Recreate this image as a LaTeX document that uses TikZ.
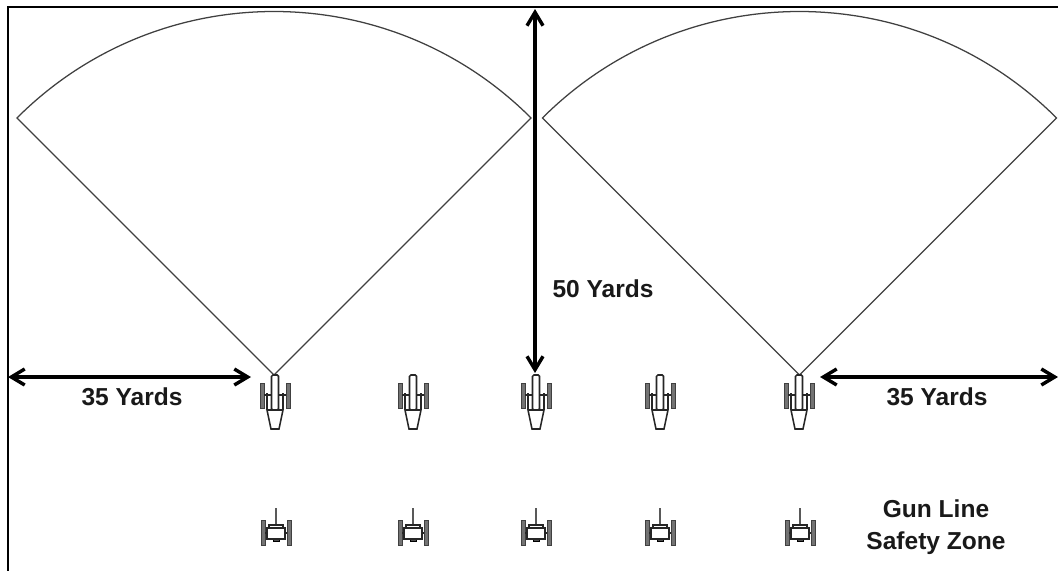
\documentclass[tikz,border=0pt]{standalone}
\usepackage{fontspec}
\setmainfont{Liberation Sans}
\usetikzlibrary{arrows.meta}

\tikzset{
  sector/.style={draw=black!75, line width=0.95pt, line join=miter},
  frameline/.style={draw=black, line width=1.3pt},
  span/.style={{Straight Barb[length=10pt,width=12pt,line width=2.6pt]}-{Straight Barb[length=10pt,width=12pt,line width=2.6pt]}, black, line width=2.8pt},
  label/.style={font=\bfseries\fontsize{18.4}{23.6}\selectfont, text=black!90, inner sep=0pt, align=center},
  part/.style={draw=black!85, line width=1.15pt, fill=white},
  wheel/.style={draw=black!75, line width=0.7pt, fill=black!55},
  pics/gun/.style={code={
    \draw[wheel] (-15,8) rectangle (-11,33);
    \draw[wheel] (11,8) rectangle (15,33);
    \draw[part] (-8,18) -- (-8,35) -- (-4,54) -- (4,54) -- (8,35) -- (8,18);
    \draw[part] (-8,35) -- (8,35);
    \draw[part] (-11,20) -- (11,20);
    \draw[part, rounded corners=1pt] (-3.5,0) rectangle (3.5,35);
  }},
  pics/limber/.style={code={
    \draw[wheel] (-15,-13) rectangle (-11,12);
    \draw[wheel] (11,-13) rectangle (15,12);
    \draw[part] (-11,0) -- (11,0);
    \draw[draw=black!65, line width=2pt] (0,-25) -- (0,-8);
    \draw[part] (-7,-8) rectangle (7,-5);
    \draw[draw=black, fill=black!70, line width=0.5pt] (-3,6) rectangle (3,8);
    \draw[part] (-9,-5) rectangle (9,6);
  }}
}

\begin{document}
\begin{tikzpicture}[x=0.75pt,y=-0.75pt,line cap=butt]
  \useasboundingbox (0,0) rectangle (1058,571);

  % outer edge
  \draw[frameline] (8,571) -- (8,7) -- (1058,7);

  % field of fire
  \foreach \apexx/\sname in {274/secleft,799.5/secright}{
    \draw[sector] (\apexx,375) coordinate (\sname)
      -- ++(-135:363.5) arc[start angle=-135, end angle=-45, radius=363.5] -- cycle;
  }

  % guns and limbers
  \foreach \gunx in {275,413,536,660,799}{
    \pic at (\gunx,375) {gun};
  }
  \foreach \limx in {276,413,536,660,800}{
    \pic at (\limx,533) {limber};
  }

  % measured ends
  \coordinate (edgeleft) at (8,377);
  \coordinate (gunleft) at (251,377);
  \coordinate (gunright) at (820,377);
  \coordinate (edgeright) at (1058,377);
  \coordinate (edgetop) at (535,9);
  \coordinate (guncentre) at (535,373);

  % distances
  \draw[span] (edgeleft) -- (gunleft);
  \draw[span] (gunright) -- (edgeright);
  \draw[span] (edgetop) -- (guncentre);

  % labels
  \node[label] (leftdist) at (132,397) {35 Yards};
  \node[label] (rightdist) at (937,397) {35 Yards};
  \node[label] (topdist) at (603,289) {50 Yards};
  \node[label] (zone) at (936,527) {Gun Line\\Safety Zone};
\end{tikzpicture}
\end{document}
